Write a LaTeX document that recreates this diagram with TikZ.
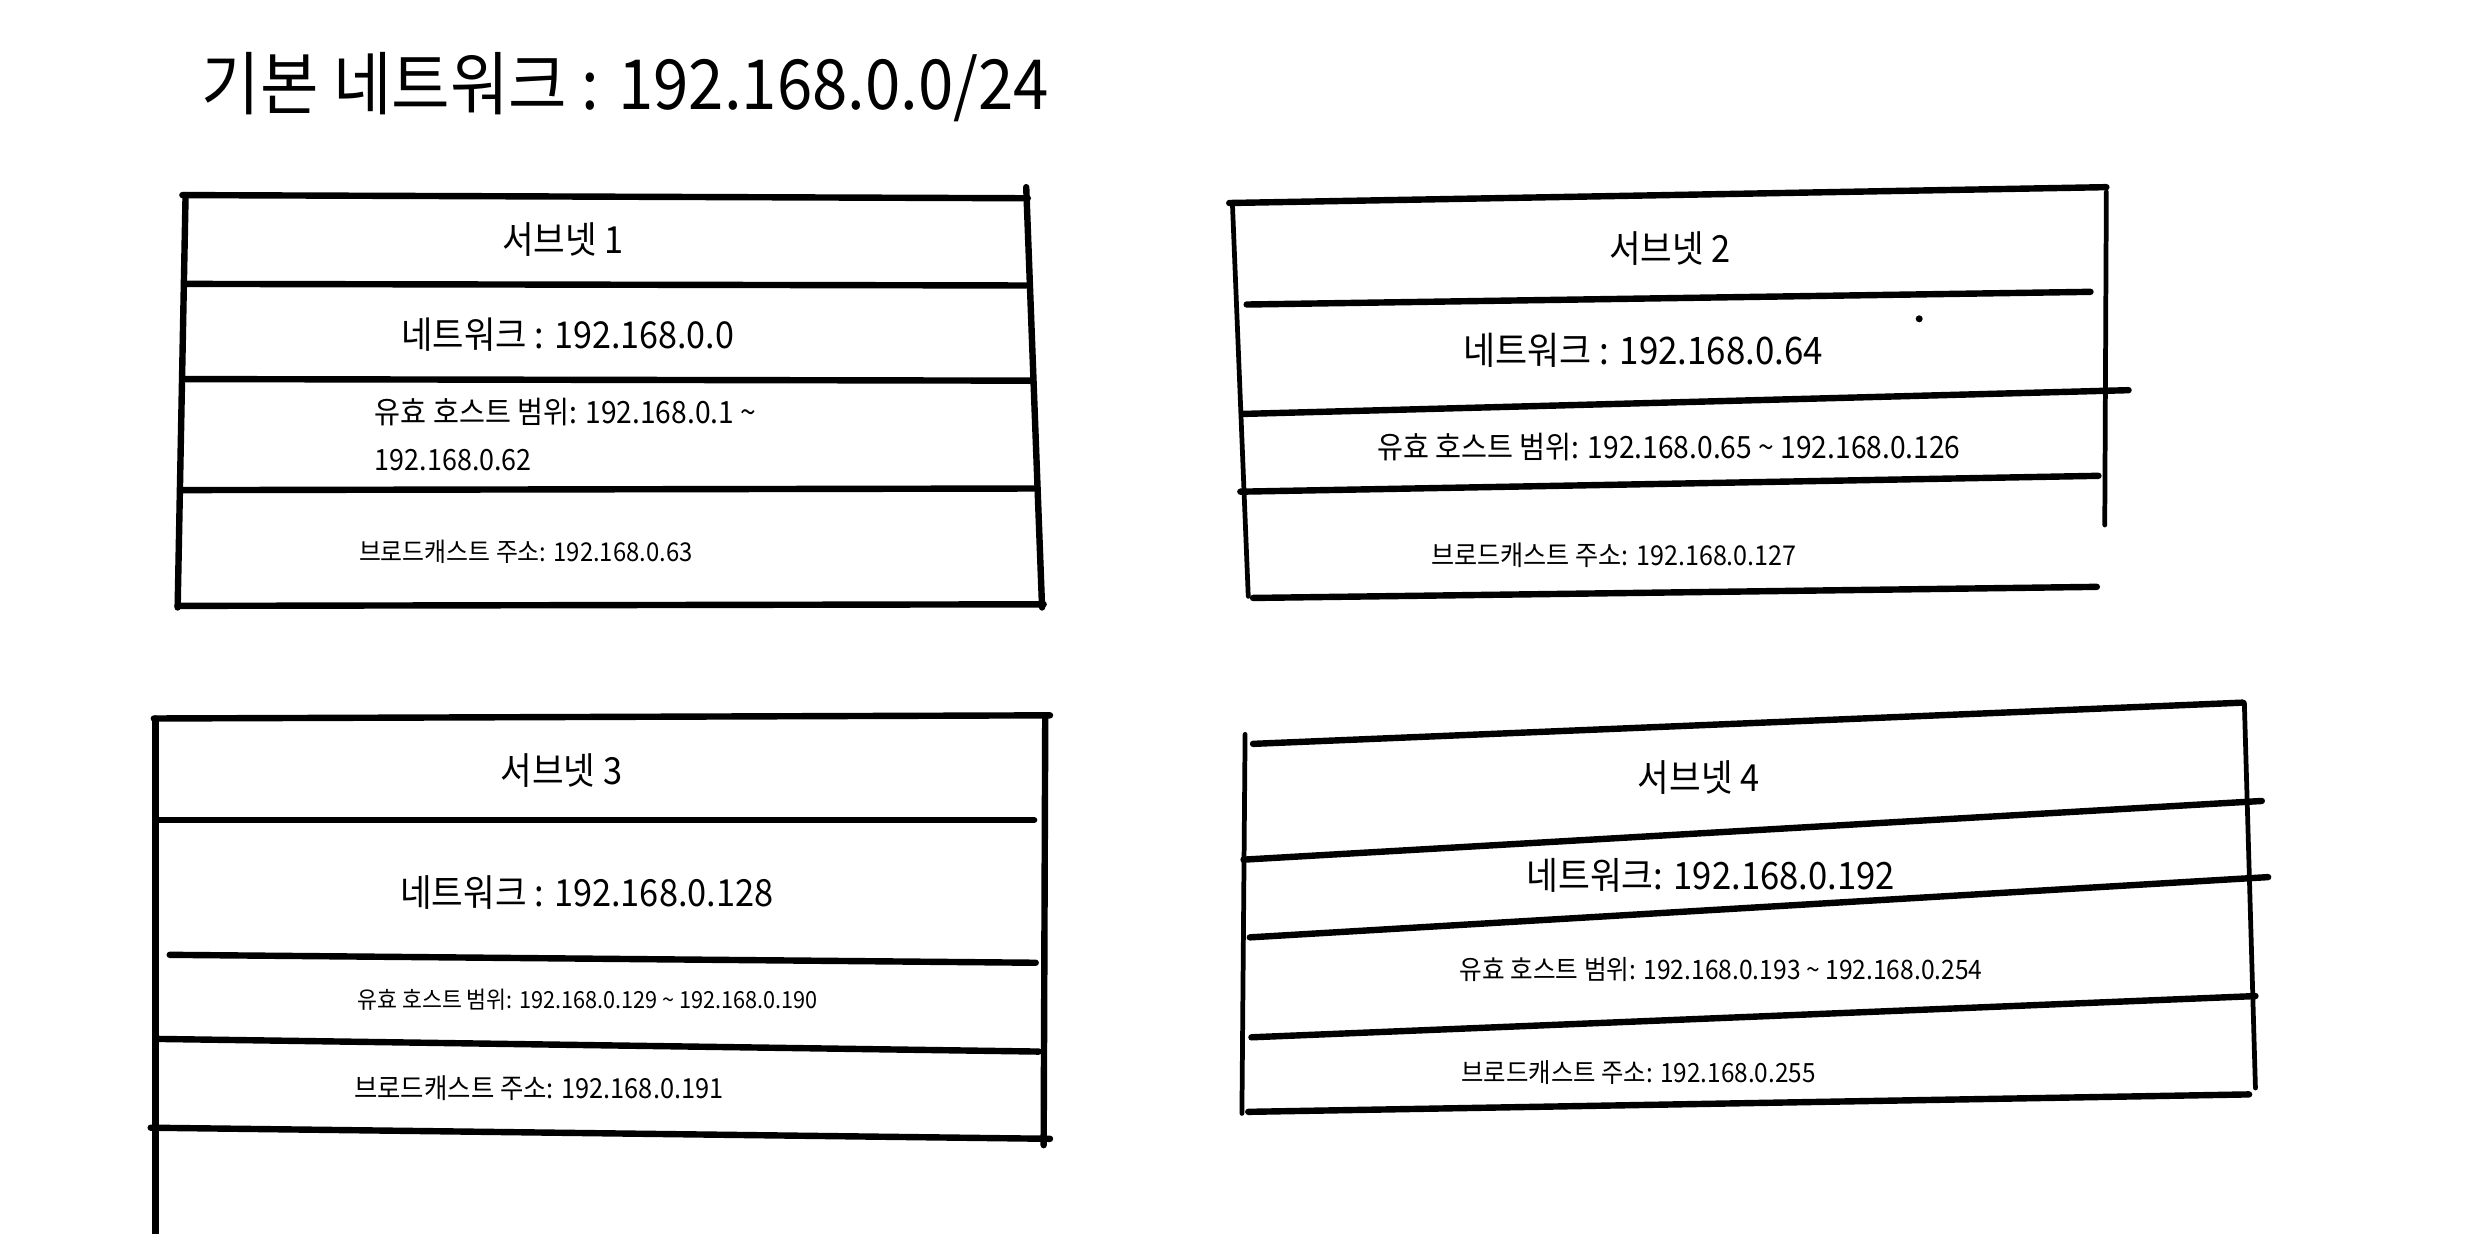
\documentclass[tikz,border=0pt]{standalone}
\usepackage{fontspec}
\setmainfont{Noto Sans CJK KR}[FakeStretch=0.92]
\usepackage{tikz}

\begin{document}
\begin{tikzpicture}[x=0.2mm, y=-0.2mm, line cap=round,
  rule/.style={line width=2.3pt},
  side/.style={line width=1.7pt},
  txt/.style={inner sep=0pt},
  lefttxt/.style={inner sep=0pt, anchor=west}]
  \useasboundingbox (0,0) rectangle (1568,778);

  % Title
  \node[lefttxt, font=\fontsize{24.8}{29}\selectfont] (title) at (127,55) {기본 네트워크 : 192.168.0.0/24};

  % Subnet 1 table
  \draw[rule] (115,123) -- (648,125);
  \draw[rule] (117,123) -- (112,383);
  \draw[rule] (647,118) -- (657,383);
  \draw[rule] (117,179) -- (647,180);
  \draw[rule] (117,239) -- (650,240);
  \draw[rule] (115,309) -- (652,308);
  \draw[rule] (112,382) -- (658,381);
  \node[txt, font=\fontsize{13.4}{16}\selectfont] (head1) at (355,151) {서브넷 1};
  \node[txt, font=\fontsize{13.3}{16}\selectfont] (net1) at (358,211) {네트워크 : 192.168.0.0};
  \node[lefttxt, font=\fontsize{11}{13}\selectfont] (range1) at (236,260) {유효 호스트 범위: 192.168.0.1 \textasciitilde};
  \node[lefttxt, font=\fontsize{10.5}{13}\selectfont] (range1b) at (236,290) {192.168.0.62};
  \node[lefttxt, font=\fontsize{9.3}{11}\selectfont] (bcast1) at (226,348) {브로드캐스트 주소: 192.168.0.63};

  % Subnet 2 table
  \draw[rule] (775,128) -- (1328,118);
  \draw[side] (777,128) -- (787,376);
  \draw[side] (1328,121) -- (1327,331);
  \draw[rule] (786,192) -- (1318,184);
  \draw[rule] (783,261) -- (1342,246);
  \draw[rule] (782,310) -- (1323,300);
  \draw[rule] (790,377) -- (1322,370);
  \fill (1210,201) circle (2.2);
  \node[txt, font=\fontsize{13.4}{16}\selectfont] (head2) at (1053,157) {서브넷 2};
  \node[txt, font=\fontsize{13.6}{16}\selectfont] (net2) at (1036,221) {네트워크 : 192.168.0.64};
  \node[lefttxt, font=\fontsize{11}{13}\selectfont] (range2) at (868,282) {유효 호스트 범위: 192.168.0.65 \textasciitilde{} 192.168.0.126};
  \node[lefttxt, font=\fontsize{9.8}{11}\selectfont] (bcast2) at (902,350) {브로드캐스트 주소: 192.168.0.127};

  % Subnet 3 table
  \draw[rule] (97,453) -- (662,451);
  \draw[rule] (98,453) -- (98,778);
  \draw[rule] (659,451) -- (658,722);
  \draw[rule] (98,517) -- (652,517);
  \draw[rule] (107,602) -- (653,607);
  \draw[rule] (98,655) -- (655,663);
  \draw[rule] (95,711) -- (662,718);
  \node[txt, font=\fontsize{13.4}{16}\selectfont] (head3) at (354,486) {서브넷 3};
  \node[txt, font=\fontsize{13.4}{16}\selectfont] (net3) at (370,563) {네트워크 : 192.168.0.128};
  \node[lefttxt, font=\fontsize{8.45}{10}\selectfont] (range3) at (225,630) {유효 호스트 범위: 192.168.0.129 \textasciitilde{} 192.168.0.190};
  \node[lefttxt, font=\fontsize{9.9}{11}\selectfont] (bcast3) at (223,686) {브로드캐스트 주소: 192.168.0.191};

  % Subnet 4 table
  \draw[rule] (790,469) -- (1414,443);
  \draw[side] (785,463) -- (783,702);
  \draw[side] (1415,443) -- (1422,686);
  \draw[rule] (784,542) -- (1426,505);
  \draw[rule] (788,591) -- (1430,553);
  \draw[rule] (789,654) -- (1422,628);
  \draw[rule] (787,701) -- (1418,690);
  \node[txt, font=\fontsize{13.4}{16}\selectfont] (head4) at (1071,490) {서브넷 4};
  \node[lefttxt, font=\fontsize{13.5}{16}\selectfont] (net4) at (962,552) {네트워크: 192.168.0.192};
  \node[lefttxt, font=\fontsize{9.6}{11}\selectfont] (range4) at (920,611) {유효 호스트 범위: 192.168.0.193 \textasciitilde{} 192.168.0.254};
  \node[lefttxt, font=\fontsize{9.5}{11}\selectfont] (bcast4) at (921,676) {브로드캐스트 주소: 192.168.0.255};
\end{tikzpicture}
\end{document}
